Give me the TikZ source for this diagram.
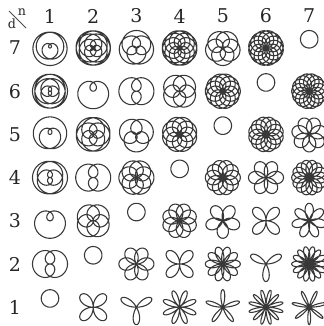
\documentclass[tikz,border=0pt]{standalone}
\usepackage{fontspec}
\setmainfont{DejaVu Serif}
\usetikzlibrary{positioning}

\begin{document}
\begin{tikzpicture}[
    x=0.02778cm, y=-0.02778cm,
    rose/.style={line width=0.85pt, draw=black!78, line join=round},
    numlabel/.style={font=\fontsize{15}{17}\selectfont, inner sep=0pt, text=black!85},
    cornerlabel/.style={font=\fontsize{10}{11}\selectfont, inner sep=0pt, text=black!85}
]
\useasboundingbox (0,0) rectangle (323,326);

% Corner: d below, n above the slash
\node[cornerlabel] (nlab) at (22,12) {n};
\node[cornerlabel] (dlab) at (12,24) {d};
\coordinate (slashA) at (9,11);
\coordinate (slashB) at (26,28);
\draw[line width=0.6pt, black!70] (slashA) -- (slashB);

% Column numbers n and row numbers d
\foreach \n in {1,...,7} {
    \node[numlabel] (col\n) at ({50+43.2*(\n-1)}, 16) {\n};
}
\foreach \d in {1,...,7} {
    \node[numlabel] (row\d) at (15, {48+43.2*(7-\d)}) {\d};
}

% Roses r = sin(n/d theta), one per cell
\foreach \d in {1,...,7} {
    \foreach \n in {1,...,7} {
        \pgfmathsetmacro{\cx}{50+43.2*(\n-1)}
        \pgfmathsetmacro{\cy}{48+43.2*(7-\d)}
        \pgfmathtruncatemacro{\ns}{60*(\n+\d)+40}
        \draw[rose, shift={(\cx,\cy)}] plot[smooth, domain=0:360*\d, samples=\ns, variable=\t]
            ({17.5*sin(\n/\d*\t)*cos(\t)}, {-17.5*sin(\n/\d*\t)*sin(\t)}) -- cycle;
    }
}

\end{tikzpicture}
\end{document}
